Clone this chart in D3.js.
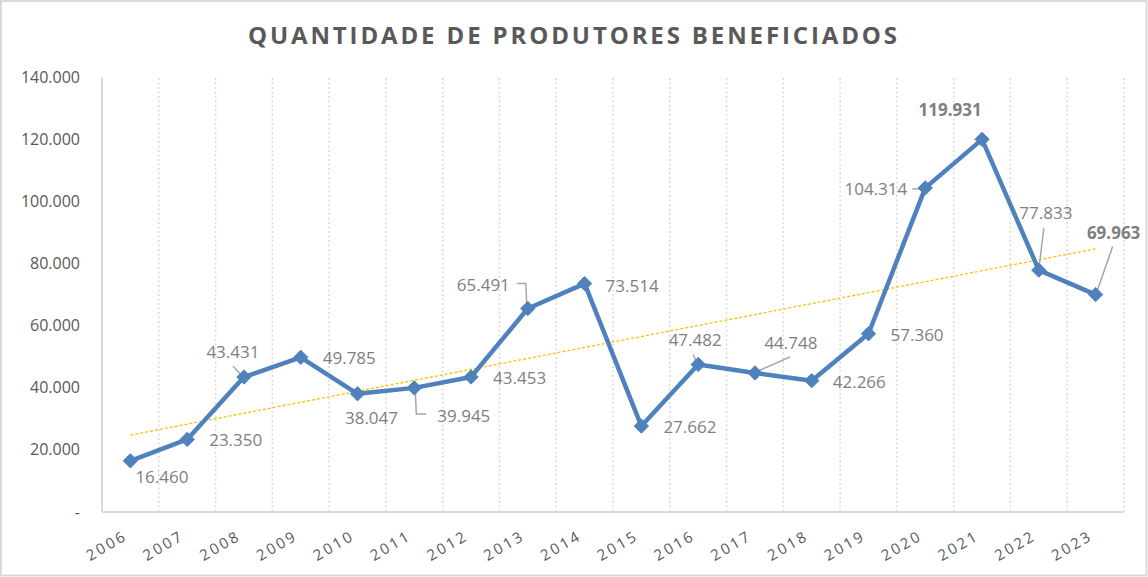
<!DOCTYPE html>
<html>
<head>
<meta charset="utf-8">
<script src="https://cdn.jsdelivr.net/npm/d3@7"></script>
<style>
html,body{margin:0;padding:0;background:#fff;}
svg{display:block;}
</style>
</head>
<body>
<svg id="chart" width="1148" height="577"></svg>
<script>
// ---- data ----
const years = ["2006","2007","2008","2009","2010","2011","2012","2013","2014","2015","2016","2017","2018","2019","2020","2021","2022","2023"];
const produtores = [16460,23350,43431,49785,38047,39945,43453,65491,73514,27662,47482,44748,42266,57360,104314,119931,77833,69963];
const yTicks = [0,20000,40000,60000,80000,100000,120000,140000];
const boldLabels = ["2021","2023"];
const title = "QUANTIDADE DE PRODUTORES BENEFICIADOS";

// ---- label layout (offsets relative to the point) ----
const labelLayout = {
  "2006":{anchor:"start",dx:5,dy:16},
  "2007":{anchor:"start",dx:22,dy:1},
  "2008":{anchor:"middle",dx:-11,dy:-25,leader:[[-11,-11],[-1,0]]},
  "2009":{anchor:"start",dx:22,dy:1},
  "2010":{anchor:"middle",dx:14,dy:24},
  "2011":{anchor:"start",dx:23,dy:28,leader:[[1,2],[2,26],[12,26]]},
  "2012":{anchor:"start",dx:22,dy:1},
  "2013":{anchor:"end",dx:-18,dy:-23,leader:[[-11,-25],[-2,-25],[-1,-1]]},
  "2014":{anchor:"start",dx:21,dy:2},
  "2015":{anchor:"start",dx:22,dy:1},
  "2016":{anchor:"middle",dx:-3,dy:-24,leader:[[-5,-10],[-1,-1]]},
  "2017":{anchor:"middle",dx:36,dy:-30,leader:[[35,-16],[1,-1]]},
  "2018":{anchor:"start",dx:21,dy:1},
  "2019":{anchor:"start",dx:22,dy:1},
  "2020":{anchor:"end",dx:-18,dy:1,leader:[[-13,1],[-2,1]]},
  "2021":{anchor:"middle",dx:-32,dy:-29},
  "2022":{anchor:"middle",dx:7,dy:-57,leader:[[5,-42],[0,-1]]},
  "2023":{anchor:"middle",dx:18,dy:-62,leader:[[17,-48],[1,-2]]}
};

const svg = d3.select("#chart");
const W = 1148, H = 577;
const plot = {left:102, right:1124, top:77, bottom:512};
const font = "'Open Sans', 'Liberation Sans', sans-serif";

// outer border
svg.append("rect").attr("x",1).attr("y",1).attr("width",W-2.5).attr("height",H-2.5)
  .attr("fill","#fff").attr("stroke","#d9d9d9").attr("stroke-width",2);

const x = d3.scaleBand().domain(years).range([plot.left, plot.right]).padding(0);
const cx = d => x(d) + x.bandwidth()/2;
const y = d3.scaleLinear().domain([0,140000]).range([plot.bottom, plot.top]);

const fmt = d3.formatLocale({decimal:",",thousands:".",grouping:[3],currency:["",""]}).format(",.0f");
const fmtTick = v => v === 0 ? "-" : fmt(v);

// title
svg.append("text").attr("x",572.5).attr("y",44).attr("text-anchor","middle")
  .attr("font-family",font).attr("font-weight","bold")
  .attr("font-size",24).attr("fill","#595959")
  .attr("textLength",649).attr("lengthAdjust","spacing")
  .text(title.replace(/ /g,"\u00a0"));

// vertical dotted gridlines at category boundaries
const bounds = years.slice(1).map(d => x(d)).concat([plot.right]);
svg.append("g").selectAll("line").data(bounds).join("line")
  .attr("x1",d=>d).attr("x2",d=>d).attr("y1",plot.top+1).attr("y2",plot.bottom)
  .attr("stroke","#d9d9d9").attr("stroke-width",1.5).attr("stroke-dasharray","2,2.5");

// y axis
const yAxis = svg.append("g").attr("transform",`translate(${plot.left},0)`)
  .call(d3.axisLeft(y).tickValues(yTicks).tickFormat(fmtTick).tickSize(0).tickPadding(22));
yAxis.select(".domain").attr("stroke","#d9d9d9").attr("stroke-width",2)
  .attr("d",`M0,${plot.top+1}V${plot.bottom}`);
yAxis.selectAll("text").attr("font-family",font)
  .attr("font-size",16).attr("fill","#595959");

// x axis
const xAxis = svg.append("g").attr("transform",`translate(0,${plot.bottom})`)
  .call(d3.axisBottom(x).tickSize(0).tickFormat(d=>d));
xAxis.select(".domain").attr("stroke","#d9d9d9").attr("stroke-width",2)
  .attr("d",`M${plot.left},0H${plot.right}`);
xAxis.selectAll(".tick text")
  .attr("font-family",font)
  .attr("font-size",15).attr("fill","#595959")
  .attr("letter-spacing","2.5px")
  .attr("text-anchor","end")
  .attr("dy",0).attr("y",0)
  .attr("transform","translate(-2,27) rotate(-30)");

// trendline (linear regression of the series)
const n = produtores.length;
const xs = d3.range(n);
const mx = d3.mean(xs), my = d3.mean(produtores);
const slope = d3.sum(xs.map((xi,i)=>(xi-mx)*(produtores[i]-my))) / d3.sum(xs.map(xi=>(xi-mx)**2));
const intercept = my - slope*mx;
svg.append("line")
  .attr("x1",cx(years[0])).attr("y1",y(intercept))
  .attr("x2",cx(years[n-1])).attr("y2",y(intercept+slope*(n-1)))
  .attr("stroke","#ffc000").attr("stroke-width",1.3).attr("stroke-dasharray","3,2");

// leader lines
const pts = years.map((yr,i)=>({yr, v:produtores[i], px:cx(yr), py:y(produtores[i])}));
svg.append("g").selectAll("polyline").data(pts.filter(p=>labelLayout[p.yr].leader)).join("polyline")
  .attr("points",p=>labelLayout[p.yr].leader.map(q=>[p.px+q[0],p.py+q[1]].join(",")).join(" "))
  .attr("fill","none").attr("stroke","#a6a6a6").attr("stroke-width",1.5);

// series line
const color = "#4f81bd";
svg.append("path").datum(pts)
  .attr("d",d3.line().x(p=>p.px).y(p=>p.py))
  .attr("fill","none").attr("stroke",color).attr("stroke-width",4.5).attr("stroke-linejoin","round");

// markers
svg.append("g").selectAll("path").data(pts).join("path")
  .attr("d",d3.symbol(d3.symbolDiamond2, 130))
  .attr("transform",p=>`translate(${p.px},${p.py})`)
  .attr("fill",color).attr("stroke",color).attr("stroke-width",1);

// data labels
svg.append("g").selectAll("text").data(pts).join("text")
  .attr("x",p=>p.px+labelLayout[p.yr].dx)
  .attr("y",p=>p.py+labelLayout[p.yr].dy)
  .attr("dy","0.35em")
  .attr("text-anchor",p=>labelLayout[p.yr].anchor)
  .attr("font-family",font)
  .attr("font-size",17)
  .attr("font-weight",p=>boldLabels.includes(p.yr)?"bold":"normal")
  .attr("fill","#7f7f7f")
  .text(p=>fmt(p.v));
</script>
</body>
</html>
